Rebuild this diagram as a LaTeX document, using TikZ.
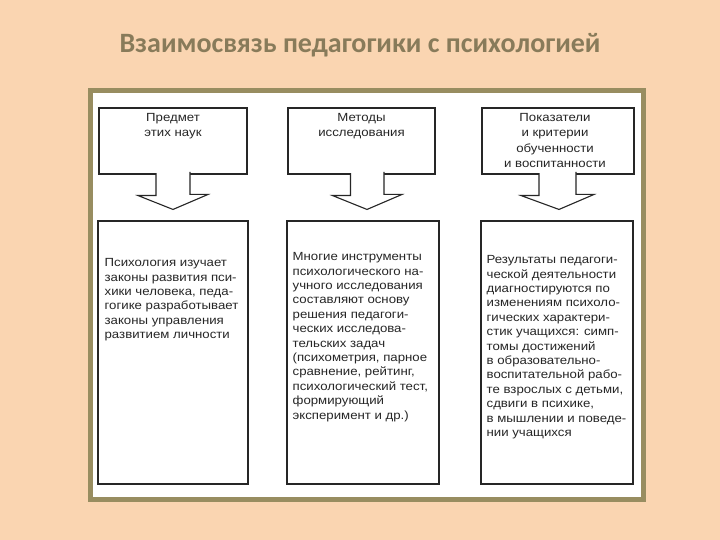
\documentclass[tikz,border=0pt]{standalone}
\usepackage{fontspec}
\setmainfont{Liberation Sans}
\newfontfamily\titlefont{Carlito}
\newfontfamily\boxfont[FakeStretch=1.12]{Liberation Sans}
\usetikzlibrary{positioning,calc}
\definecolor{peach}{RGB}{250,213,177}
\definecolor{olivebar}{RGB}{152,141,96}
\definecolor{titlegray}{RGB}{136,123,90}

\begin{document}
\begin{tikzpicture}[x=1pt,y=-1pt,
  box/.style={rectangle,draw=black!85,line width=1.1pt,fill=white,inner sep=0pt},
  headtxt/.style={align=center,inner sep=0pt,text=black!85,
                  font=\boxfont\fontsize{11.8}{15.2}\selectfont},
  bodytxt/.style={align=left,inner sep=0pt,text=black!85,
                  font=\boxfont\fontsize{11.8}{14.4}\selectfont},
  blk/.style={draw=black!85,line width=1.1pt,fill=white,line join=miter}]

\fill[peach] (0,0) rectangle (720,540);
\useasboundingbox (0,0) rectangle (720,540);

\node[font=\titlefont\bfseries\fontsize{28}{32}\selectfont,text=titlegray] (title) at (360,45)
  {Взаимосвязь педагогики с психологией};

\draw[olivebar,line width=5pt,fill=white] (90.5,90.5) rectangle (643,499);

\node[box,minimum width=148pt,minimum height=66pt] (t1) at (173,141) {};
\node[box,minimum width=147pt,minimum height=66pt] (t2) at (361.5,141) {};
\node[box,minimum width=152pt,minimum height=66pt] (t3) at (558,141) {};

\node[headtxt,below=6pt of t1.north] (t1txt) {Предмет\\этих наук};
\node[headtxt,below=6pt of t2.north] (t2txt) {Методы\\исследования};
\node[headtxt,below=6pt of t3.north,xshift=-3pt] (t3txt)
  {Показатели\\и критерии\\обученности\\и воспитанности};

\node[box,minimum width=150pt,minimum height=263pt] (b1) at (173,352.5) {};
\node[box,minimum width=152pt,minimum height=263pt] (b2) at (363,352.5) {};
\node[box,minimum width=152pt,minimum height=263pt] (b3) at (557,352.5) {};

\draw[blk] ($(t1.south)+(-17,-1.5)$) -- ++(0,22.5) -- ++(-18,0) -- ($(b1.north)+(0,-11)$)
  -- ++(35,-15) -- ++(-18,0) -- ++(0,-22.5);
\draw[blk] ($(t2.south)+(-11,-1.5)$) -- ++(0,22.5) -- ++(-18,0) -- ($(b2.north)+(4,-11)$)
  -- ++(35,-15) -- ++(-18,0) -- ++(0,-22.5);
\draw[blk] ($(t3.south)+(-19,-1.5)$) -- ++(0,22.5) -- ++(-18,0) -- ($(b3.north)+(2,-11)$)
  -- ++(35,-15) -- ++(-18,0) -- ++(0,-22.5);

\node[bodytxt,below right=38pt and 7pt of b1.north west] (b1txt)
  {Психология изучает\\законы развития пси-\\хики человека, педа-\\гогике разработывает\\
   законы управления\\развитием личности};
\node[bodytxt,below right=32pt and 6pt of b2.north west] (b2txt)
  {Многие инструменты\\психологического на-\\учного исследования\\составляют основу\\
   решения педагоги-\\ческих исследова-\\тельских задач\\(психометрия, парное\\
   сравнение, рейтинг,\\психологический тест,\\формирующий\\эксперимент и др.)};
\node[bodytxt,below right=35pt and 6pt of b3.north west] (b3txt)
  {Результаты педагоги-\\ческой деятельности\\диагностируются по\\изменениям психоло-\\
   гических характери-\\стик учащихся: симп-\\томы достижений\\в образовательно-\\
   воспитательной рабо-\\те взрослых с детьми,\\сдвиги в психике,\\в мышлении и поведе-\\
   нии учащихся};
\end{tikzpicture}
\end{document}
